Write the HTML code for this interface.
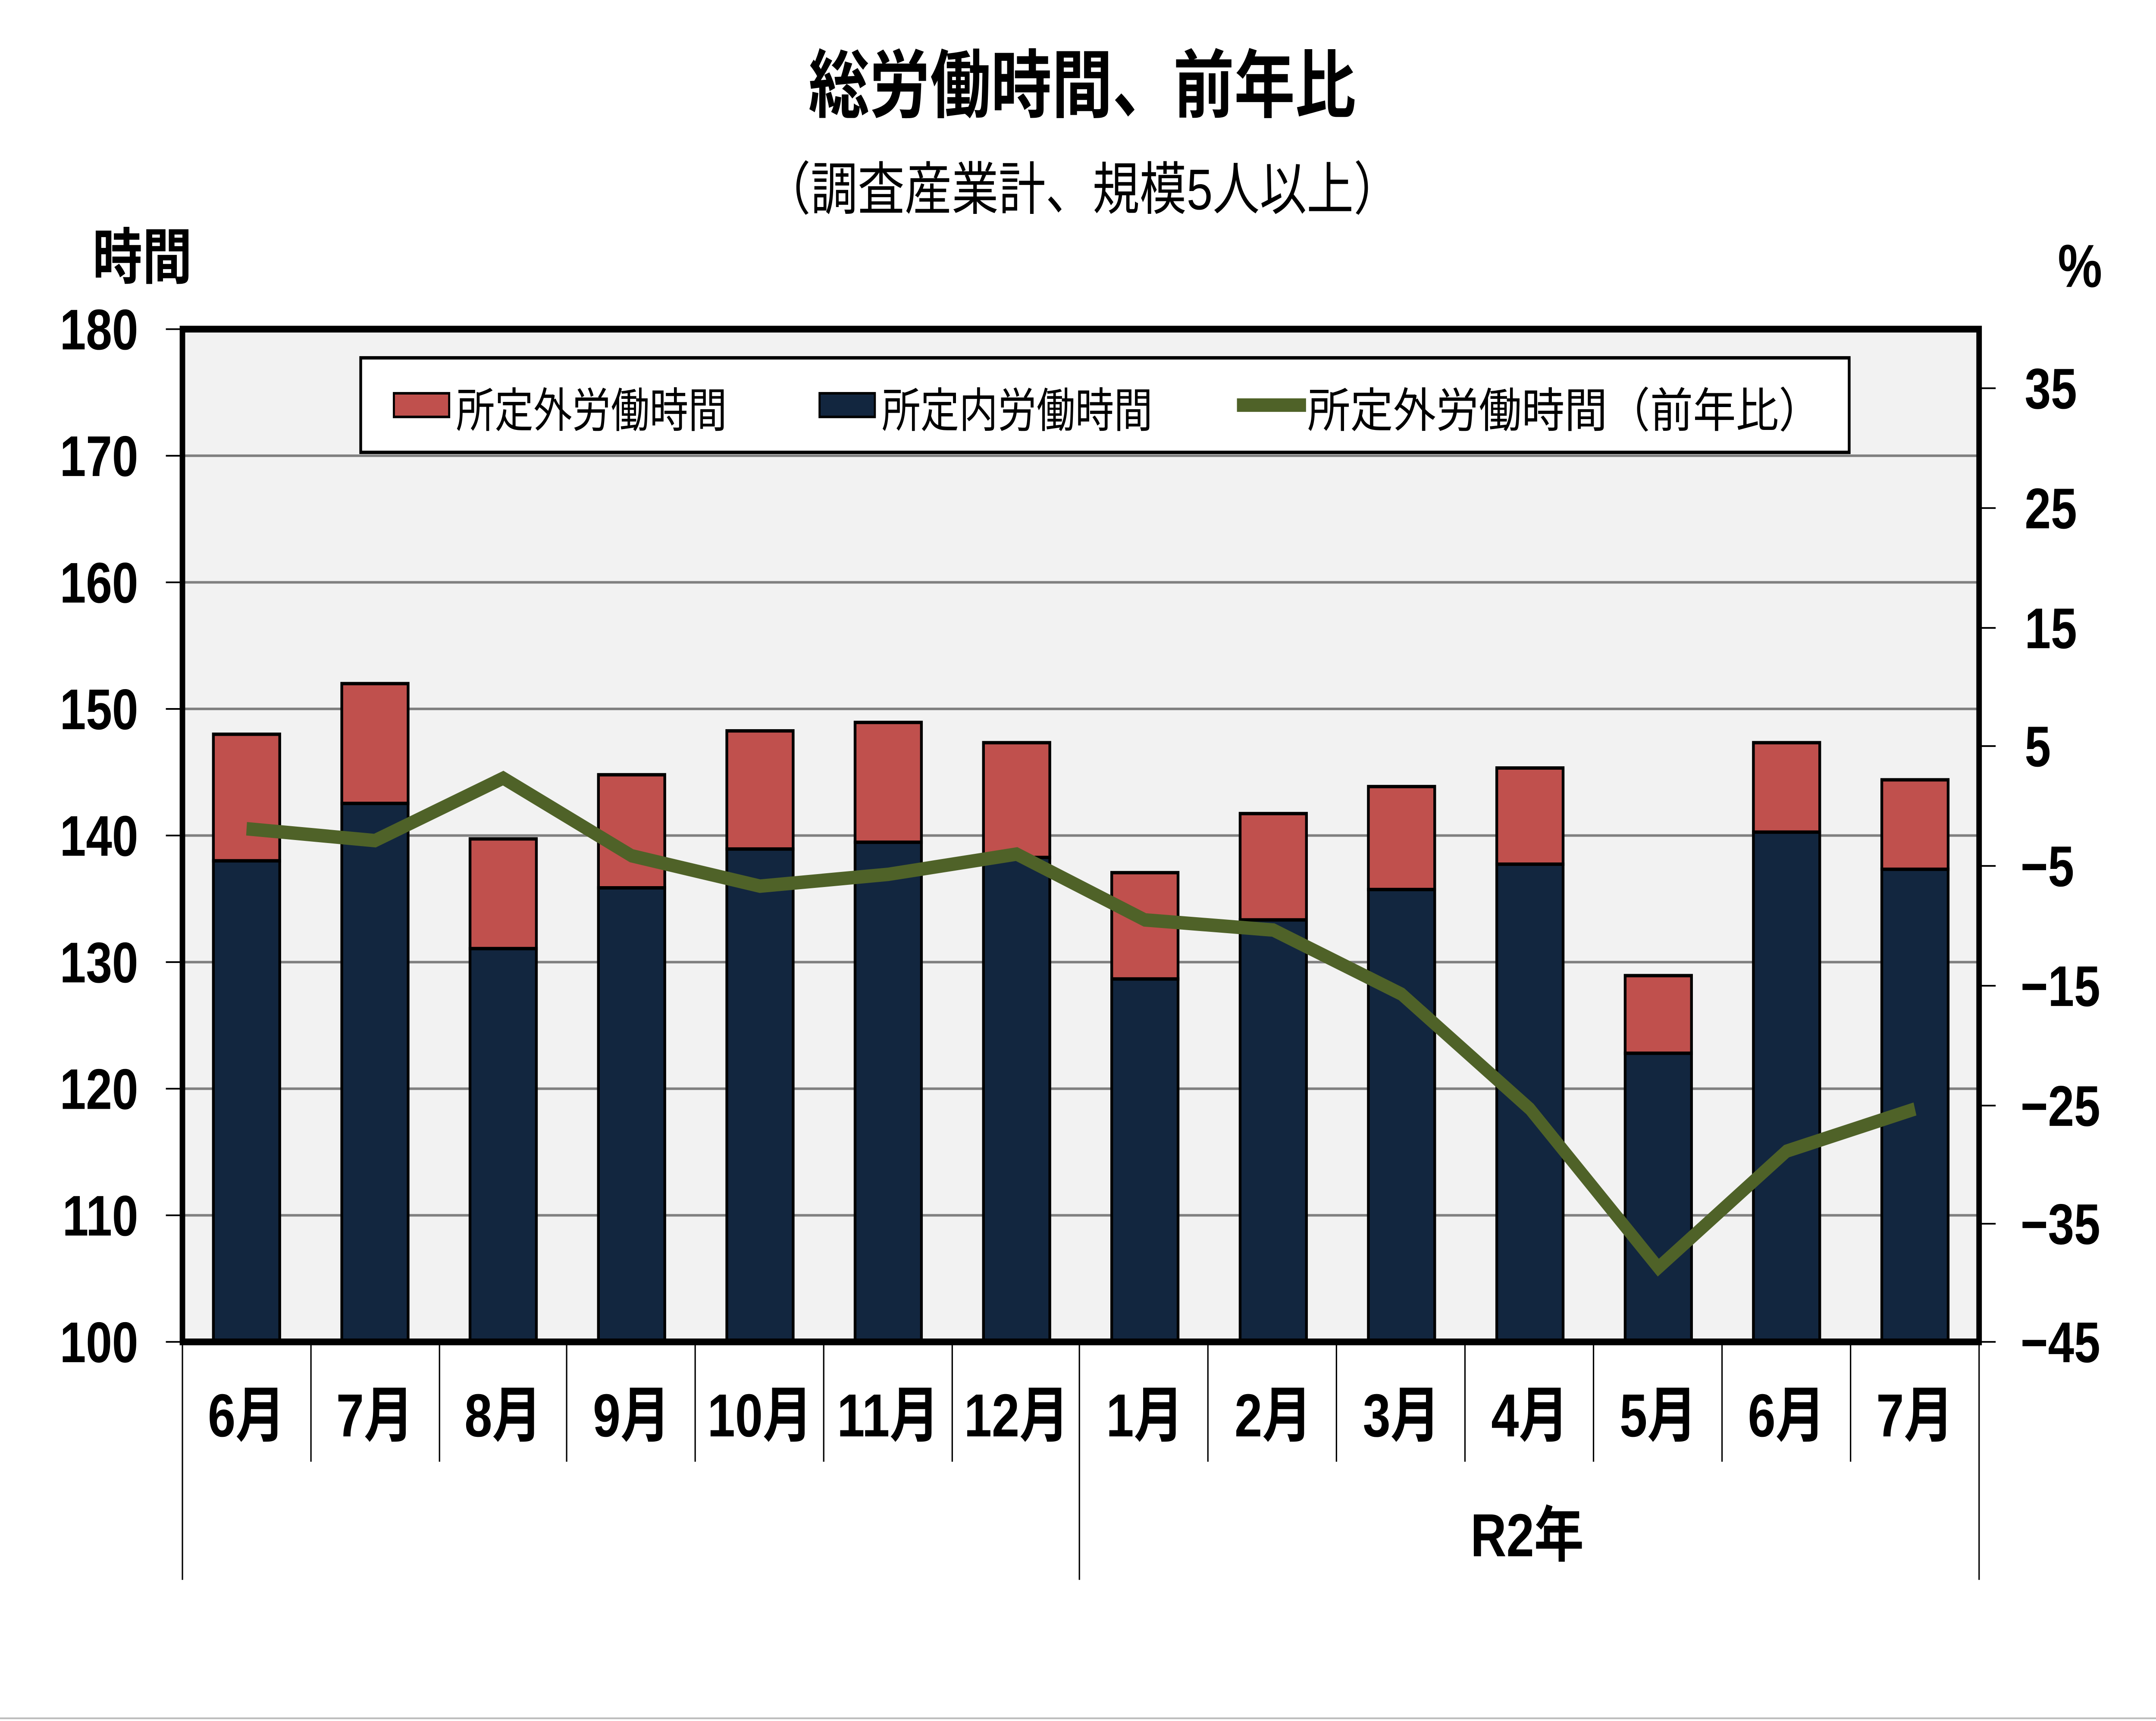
<!DOCTYPE html>
<html><head><meta charset="utf-8"><style>html,body{margin:0;padding:0;background:#fff;width:100%;height:100%;overflow:hidden}svg{display:block;width:100vw;height:100vh}text{font-family:"Liberation Sans","Noto Sans CJK JP",sans-serif;font-weight:bold;fill:#000}</style></head>
<body>
<svg viewBox="0 0 1560 1019.6" preserveAspectRatio="none" xmlns="http://www.w3.org/2000/svg">
<rect width="1560" height="1020" fill="#fff"/>
<line x1="0" y1="1018" x2="1560" y2="1018" stroke="#bbb" stroke-width="1"/>
<text x="783" y="66" font-size="44" text-anchor="middle">総労働時間、前年比</text>
<text x="783" y="124" font-size="34" text-anchor="middle" style="font-weight:normal">（調査産業計、規模5人以上）</text>
<text x="103" y="165" font-size="36" text-anchor="middle">時間</text>
<text x="1505" y="170" font-size="36" text-anchor="middle">%</text>
<rect x="132" y="195" width="1300" height="600" fill="#f2f2f2"/>
<g stroke="#808080" stroke-width="1.5">
<line x1="132" y1="270" x2="1432" y2="270"/><line x1="132" y1="345" x2="1432" y2="345"/><line x1="132" y1="420" x2="1432" y2="420"/><line x1="132" y1="495" x2="1432" y2="495"/><line x1="132" y1="570" x2="1432" y2="570"/><line x1="132" y1="645" x2="1432" y2="645"/><line x1="132" y1="720" x2="1432" y2="720"/>
</g>
<g stroke="#000" stroke-width="1">
<line x1="120" y1="195" x2="132" y2="195"/><line x1="120" y1="270" x2="132" y2="270"/><line x1="120" y1="345" x2="132" y2="345"/><line x1="120" y1="420" x2="132" y2="420"/><line x1="120" y1="495" x2="132" y2="495"/><line x1="120" y1="570" x2="132" y2="570"/><line x1="120" y1="645" x2="132" y2="645"/><line x1="120" y1="720" x2="132" y2="720"/><line x1="120" y1="795" x2="132" y2="795"/>
<line x1="1432" y1="230" x2="1444" y2="230"/><line x1="1432" y1="301" x2="1444" y2="301"/><line x1="1432" y1="372" x2="1444" y2="372"/><line x1="1432" y1="442" x2="1444" y2="442"/><line x1="1432" y1="513" x2="1444" y2="513"/><line x1="1432" y1="584" x2="1444" y2="584"/><line x1="1432" y1="655" x2="1444" y2="655"/><line x1="1432" y1="725" x2="1444" y2="725"/><line x1="1432" y1="795" x2="1444" y2="795"/>
</g>
<g font-size="34" text-anchor="end">
<text x="100" y="207">180</text><text x="100" y="282">170</text><text x="100" y="357">160</text><text x="100" y="432">150</text><text x="100" y="507">140</text><text x="100" y="582">130</text><text x="100" y="657">120</text><text x="100" y="732">110</text><text x="100" y="807">100</text>
</g>
<g font-size="34">
<text x="1465" y="242">35</text><text x="1465" y="313">25</text><text x="1465" y="384">15</text><text x="1465" y="454">5</text><text x="1462" y="525">−5</text><text x="1462" y="596">−15</text><text x="1462" y="667">−25</text><text x="1462" y="737">−35</text><text x="1462" y="807">−45</text>
</g>
<g stroke="#000" stroke-width="2">
<rect x="154.4" y="435" width="48" height="75" fill="#c0504d"/><rect x="154.4" y="510" width="48" height="285" fill="#12263f"/>
<rect x="247.3" y="405" width="48" height="71" fill="#c0504d"/><rect x="247.3" y="476" width="48" height="319" fill="#12263f"/>
<rect x="340.1" y="497" width="48" height="65" fill="#c0504d"/><rect x="340.1" y="562" width="48" height="233" fill="#12263f"/>
<rect x="433" y="459" width="48" height="67" fill="#c0504d"/><rect x="433" y="526" width="48" height="269" fill="#12263f"/>
<rect x="525.9" y="433" width="48" height="70" fill="#c0504d"/><rect x="525.9" y="503" width="48" height="292" fill="#12263f"/>
<rect x="618.7" y="428" width="48" height="71" fill="#c0504d"/><rect x="618.7" y="499" width="48" height="296" fill="#12263f"/>
<rect x="711.6" y="440" width="48" height="68" fill="#c0504d"/><rect x="711.6" y="508" width="48" height="287" fill="#12263f"/>
<rect x="804.4" y="517" width="48" height="63" fill="#c0504d"/><rect x="804.4" y="580" width="48" height="215" fill="#12263f"/>
<rect x="897.3" y="482" width="48" height="63" fill="#c0504d"/><rect x="897.3" y="545" width="48" height="250" fill="#12263f"/>
<rect x="990.1" y="466" width="48" height="61" fill="#c0504d"/><rect x="990.1" y="527" width="48" height="268" fill="#12263f"/>
<rect x="1083" y="455" width="48" height="57" fill="#c0504d"/><rect x="1083" y="512" width="48" height="283" fill="#12263f"/>
<rect x="1175.9" y="578" width="48" height="46" fill="#c0504d"/><rect x="1175.9" y="624" width="48" height="171" fill="#12263f"/>
<rect x="1268.7" y="440" width="48" height="53" fill="#c0504d"/><rect x="1268.7" y="493" width="48" height="302" fill="#12263f"/>
<rect x="1361.6" y="462" width="48" height="53" fill="#c0504d"/><rect x="1361.6" y="515" width="48" height="280" fill="#12263f"/>
</g>
<polyline fill="none" stroke="#4f6228" stroke-width="8" stroke-linejoin="miter" points="178.4,491 271.3,498 364.1,461 457,507 549.9,525 642.7,518 735.6,506 828.4,545 921.3,551 1014.1,589 1107,657 1199.9,751 1292.7,682 1385.6,657"/>
<rect x="132" y="195" width="1300" height="600" fill="none" stroke="#000" stroke-width="4"/>
<rect x="261" y="212" width="1077" height="56" fill="#fff" stroke="#000" stroke-width="2"/>
<rect x="285" y="233" width="40" height="14" fill="#c0504d" stroke="#000" stroke-width="1.5"/>
<text x="330" y="253" font-size="28" style="font-weight:normal">所定外労働時間</text>
<rect x="593" y="233" width="40" height="14" fill="#12263f" stroke="#000" stroke-width="1.5"/>
<text x="638" y="253" font-size="28" style="font-weight:normal">所定内労働時間</text>
<line x1="895" y1="240" x2="945" y2="240" stroke="#4f6228" stroke-width="8"/>
<text x="946" y="253" font-size="28" style="font-weight:normal" textLength="372" lengthAdjust="spacingAndGlyphs">所定外労働時間（前年比）</text>
<g stroke="#000" stroke-width="1">
<line x1="132" y1="795" x2="132" y2="936"/><line x1="781" y1="795" x2="781" y2="936"/><line x1="1432" y1="795" x2="1432" y2="936"/>
<line x1="225" y1="795" x2="225" y2="866"/><line x1="318" y1="795" x2="318" y2="866"/><line x1="410" y1="795" x2="410" y2="866"/><line x1="503" y1="795" x2="503" y2="866"/><line x1="596" y1="795" x2="596" y2="866"/><line x1="689" y1="795" x2="689" y2="866"/><line x1="874" y1="795" x2="874" y2="866"/><line x1="967" y1="795" x2="967" y2="866"/><line x1="1060" y1="795" x2="1060" y2="866"/><line x1="1153" y1="795" x2="1153" y2="866"/><line x1="1246" y1="795" x2="1246" y2="866"/><line x1="1339" y1="795" x2="1339" y2="866"/>
</g>
<g font-size="36" text-anchor="middle">
<text x="178.4" y="851">6月</text><text x="271.3" y="851">7月</text><text x="364.1" y="851">8月</text><text x="457" y="851">9月</text><text x="549.9" y="851">10月</text><text x="642.7" y="851">11月</text><text x="735.6" y="851">12月</text><text x="828.4" y="851">1月</text><text x="921.3" y="851">2月</text><text x="1014.1" y="851">3月</text><text x="1107" y="851">4月</text><text x="1199.9" y="851">5月</text><text x="1292.7" y="851">6月</text><text x="1385.6" y="851">7月</text>
<text x="1105" y="922">R2年</text>
</g>
</svg>
</body></html>
